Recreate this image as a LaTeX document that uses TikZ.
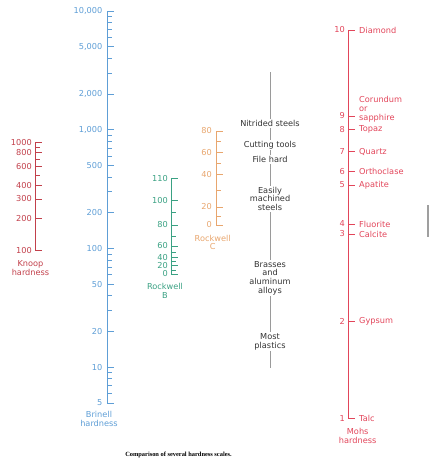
\documentclass[tikz,border=0pt]{standalone}
\usepackage{fontspec}
\setmainfont{DejaVu Sans}
\newfontfamily\capfont{Liberation Serif}
\definecolor{brin}{HTML}{5E9ED6}
\definecolor{knoop}{HTML}{C2404B}
\definecolor{rockb}{HTML}{3AA183}
\definecolor{rockc}{HTML}{E8A66E}
\definecolor{mohs}{HTML}{E2455A}
\definecolor{midgray}{HTML}{9A9A9A}
\definecolor{midtext}{HTML}{333333}
\begin{document}
\begin{tikzpicture}[x=1pt,y=-1pt,
  lbl/.style={font=\fontsize{8.2}{8.6}\selectfont, inner sep=0pt},
  num/.style={lbl, anchor=east},
  ttl/.style={lbl, align=center},
  scaleline/.style={line width=0.9pt},
  tickmark/.style={line width=0.8pt},
  midlbl/.style={lbl, align=center, fill=white, inner xsep=1pt, inner ysep=1.5pt, text=midtext},
  mineral/.style={lbl, anchor=west, text=mohs}]
\useasboundingbox (0,0) rectangle (429,472);

% ---------------- Brinell ----------------
\coordinate (btop) at (107,11);
\coordinate (bbot) at (107,{11+(4-ln(5)/2.302585)*118.75});
\draw[brin, scaleline] (btop) -- (bbot);
\foreach \v/\t in {10000/{10,000},5000/{5,000},2000/{2,000},1000/{1,000},500/500,200/200,100/100,50/50,20/20,10/10,5/5} {
  \pgfmathsetmacro\yy{11+(4-ln(\v)/2.302585)*118.75}
  \draw[brin, tickmark] (107,\yy) -- (114,\yy);
  \node[num, text=brin] (b\v) at (102.5,\yy) {\t};
}
\foreach \v in {9000,8000,7000,6000,4000,3000,900,800,700,600,400,300,90,80,70,60,40,30,9,8,7,6} {
  \pgfmathsetmacro\yy{11+(4-ln(\v)/2.302585)*118.75}
  \draw[brin, tickmark] (107,\yy) -- (111.5,\yy);
}
\node[ttl, text=brin] (brinell) at (99,419) {Brinell\\hardness};

% ---------------- Knoop ----------------
\coordinate (ktop) at (35,142.3);
\coordinate (kbot) at (35,250.7);
\draw[knoop, scaleline] (ktop) -- (kbot);
\foreach \v in {1000,800,600,400,300,200,100} {
  \pgfmathsetmacro\yy{142.3+(3-ln(\v)/2.302585)*108.4}
  \draw[knoop, tickmark] (35,\yy) -- (42,\yy);
  \node[num, text=knoop] (k\v) at (32,\yy) {\v};
}
\foreach \v in {900,700,500} {
  \pgfmathsetmacro\yy{142.3+(3-ln(\v)/2.302585)*108.4}
  \draw[knoop, tickmark] (35,\yy) -- (39.5,\yy);
}
\node[ttl, text=knoop] (knooplbl) at (30.5,268) {Knoop\\hardness};

% ---------------- Rockwell B ----------------
\coordinate (rbtop) at (171,178.3);
\coordinate (rbbot) at (171,274);
\draw[rockb, scaleline] (rbtop) -- (rbbot);
\foreach \v/\yy in {110/178.3,100/200.3,80/225,60/246,40/257.7,20/265.7,0/274} {
  \draw[rockb, tickmark] (171,\yy) -- (178,\yy);
  \node[num, text=rockb] (rb\v) at (168,\yy) {\v};
}
\foreach \yy in {212,236.5,252.5,261.8,270} {
  \draw[rockb, tickmark] (171,\yy) -- (175.5,\yy);
}
\node[ttl, text=rockb] (rblbl) at (165,291) {Rockwell\\B};

% ---------------- Rockwell C ----------------
\coordinate (rctop) at (216,131);
\coordinate (rcbot) at (216,225);
\draw[rockc, scaleline] (rctop) -- (rcbot);
\foreach \v/\yy in {80/131,60/152.3,40/174.3,20/207,0/225} {
  \draw[rockc, tickmark] (216,\yy) -- (223,\yy);
  \node[num, text=rockc] (rc\v) at (212,\yy) {\v};
}
\foreach \yy in {141.7,163.3,190.7,216.7} {
  \draw[rockc, tickmark] (216,\yy) -- (220.5,\yy);
}
\node[ttl, text=rockc] (rclbl) at (212.7,242.5) {Rockwell\\C};

% ---------------- Middle column ----------------
\coordinate (mtop) at (270,72);
\coordinate (mbot) at (270,368);
\draw[midgray, line width=0.9pt] (mtop) -- (mbot);
\node[midlbl] (nitr) at (270,123.3) {Nitrided steels};
\node[midlbl] (cut) at (270,145) {Cutting tools};
\node[midlbl] (file) at (270,159.3) {File hard};
\node[midlbl] (easy) at (270,198.9) {Easily\\machined\\steels};
\node[midlbl] (brass) at (270,278) {Brasses\\and\\aluminum\\alloys};
\node[midlbl] (plast) at (270,341.7) {Most\\plastics};

% ---------------- Mohs ----------------
\coordinate (mhtop) at (348.3,30);
\coordinate (mhbot) at (348.3,418.3);
\draw[mohs, scaleline] (mhtop) -- (mhbot);
\foreach \v/\yy in {10/30,9/116,8/129.3,7/151.7,6/171.7,5/185,4/224,3/234,2/321.7,1/418.3} {
  \draw[mohs, tickmark] (348.3,\yy) -- (355.3,\yy);
  \node[num, text=mohs] (m\v) at (345,\yy) {\v};
}
\node[mineral] (diamond) at (359,30) {Diamond};
\node[mineral, align=left] (corundum) at (359,109.3) {Corundum\\or\\sapphire};
\node[mineral] (topaz) at (359,129.3) {Topaz};
\node[mineral] (quartz) at (359,151.7) {Quartz};
\node[mineral] (orth) at (359,171.7) {Orthoclase};
\node[mineral] (apat) at (359,185) {Apatite};
\node[mineral] (fluor) at (359,224) {Fluorite};
\node[mineral] (calc) at (359,234) {Calcite};
\node[mineral] (gyps) at (359,321.7) {Gypsum};
\node[mineral] (talc) at (359,418.3) {Talc};
\node[ttl, text=mohs] (mohslbl) at (357.7,436) {Mohs\\hardness};

% ---------------- side bar and caption ----------------
\node[fill=gray!75, minimum width=2pt, minimum height=32pt, inner sep=0pt] (bar) at (428,221) {};
\node[font=\capfont\bfseries\fontsize{6.4}{7}\selectfont, inner sep=0pt] (cap) at (178.5,455) {Comparison of several hardness scales.};
\end{tikzpicture}
\end{document}
